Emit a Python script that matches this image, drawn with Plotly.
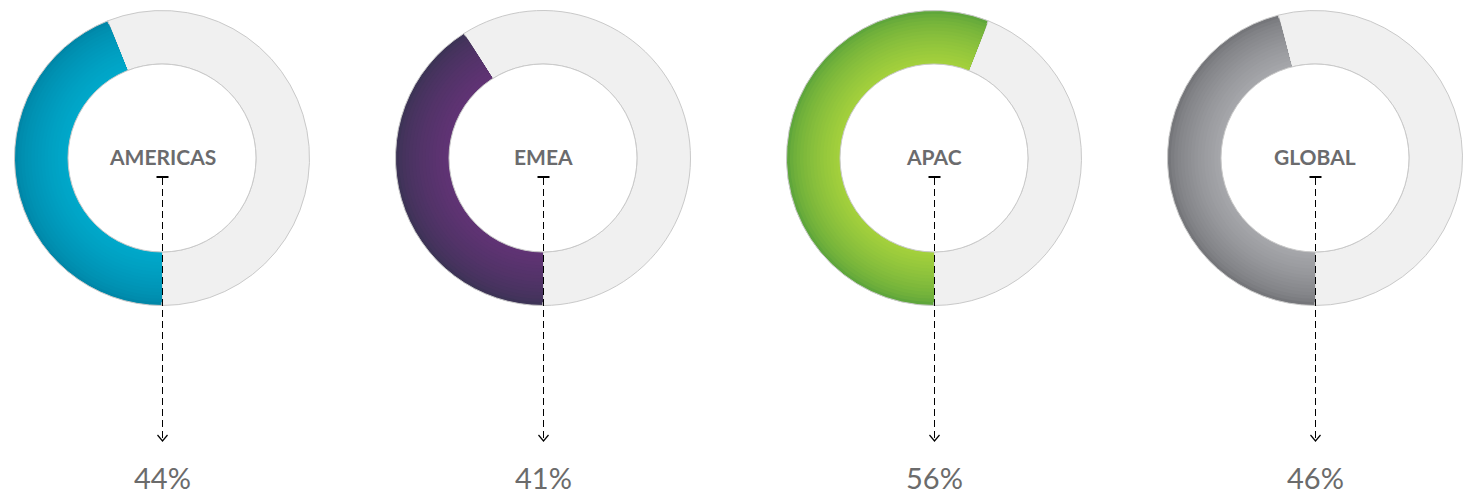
import plotly.graph_objects as go

# ---- data ----
regions = ["AMERICAS", "EMEA", "APAC", "GLOBAL"]
shares = [44, 41, 56, 46]
pct_labels = ["44%", "41%", "56%", "46%"]

# ---- styling ----
W, H = 1463, 494
centers_px = [162, 543, 934, 1315]
center_y_px = 158
R_px = 147.5
r_in_px = 94
outer_cols = ["#0087a8", "#3d3356", "#5fa63b", "#75767a"]
inner_cols = ["#00a8ca", "#603374", "#a3d03c", "#a5a6aa"]
rest_col = "#f0f0f0"
line_col = "#c9c9c9"


def hex2rgb(h):
    h = h.lstrip("#")
    return tuple(int(h[i:i + 2], 16) for i in (0, 2, 4))


def mix(a, b, t):
    ca, cb = hex2rgb(a), hex2rgb(b)
    return "rgb(%d,%d,%d)" % tuple(round(ca[i] + (cb[i] - ca[i]) * t) for i in range(3))


def domain(cx, r):
    return dict(x=[max(0, (cx - r) / W), min(1, (cx + r) / W)],
                y=[(H - center_y_px - r) / H, (H - center_y_px + r) / H])


fig = go.Figure()
N = 16
for i, (name, v) in enumerate(zip(regions, shares)):
    cx = centers_px[i]
    # base ring with outlines
    fig.add_trace(go.Pie(
        values=[v, 100 - v], labels=[name, "rest"],
        hole=r_in_px / R_px, sort=False, direction="clockwise", rotation=180,
        marker=dict(colors=[outer_cols[i], rest_col], line=dict(color=line_col, width=1)),
        textinfo="none", hoverinfo="skip", showlegend=False,
        domain=domain(cx, R_px)))
    # gradient layers for the coloured slice
    for k in range(1, N):
        r = R_px - (R_px - r_in_px) * k / N
        t = k / (N - 1)
        fig.add_trace(go.Pie(
            values=[v, 100 - v], labels=[name, "rest"],
            hole=r_in_px / r, sort=False, direction="clockwise", rotation=180,
            marker=dict(colors=[mix(outer_cols[i], inner_cols[i], t ** 0.7), "rgba(0,0,0,0)"],
                        line=dict(width=0)),
            textinfo="none", hoverinfo="skip", showlegend=False,
            domain=domain(cx, r)))
    # inner outline circle
    fig.add_shape(type="circle", xref="paper", yref="paper",
                  x0=(cx - r_in_px) / W, x1=(cx + r_in_px) / W,
                  y0=(H - center_y_px - r_in_px) / H, y1=(H - center_y_px + r_in_px) / H,
                  line=dict(color=line_col, width=1), fillcolor="white", layer="above")
    # dashed arrow
    lx = (cx + 0.5) / W
    fig.add_shape(type="line", xref="paper", yref="paper",
                  x0=lx, x1=lx, y0=(H - 178) / H, y1=(H - 440) / H,
                  line=dict(color="black", width=1, dash="7px,4px"))
    fig.add_shape(type="line", xref="paper", yref="paper",
                  x0=(cx - 5.5) / W, x1=(cx + 6.5) / W, y0=(H - 177) / H, y1=(H - 177) / H,
                  line=dict(color="black", width=2))
    fig.add_shape(type="path", xref="paper", yref="paper",
                  path="M %f %f L %f %f L %f %f" % ((cx - 4.5) / W, (H - 435) / H, lx, (H - 441) / H,
                                                    (cx + 5.5) / W, (H - 435) / H),
                  line=dict(color="black", width=1.2))
    xc = cx / W
    fig.add_annotation(x=xc, y=(H - 157) / H, xref="paper", yref="paper", text="<b>%s</b>" % name,
                       showarrow=False, font=dict(family="Lato", size=21, color="#6b6b6d"),
                       xanchor="center", yanchor="middle")
    fig.add_annotation(x=xc, y=(H - 477) / H, xref="paper", yref="paper", text=pct_labels[i],
                       showarrow=False, font=dict(family="Lato", size=29, color="#6b6b6b"),
                       xanchor="center", yanchor="middle")

fig.update_layout(width=W, height=H, margin=dict(l=0, r=0, t=0, b=0),
                  paper_bgcolor="white", plot_bgcolor="white", showlegend=False)
fig.write_html("out.html", config={"displayModeBar": False},
               post_script="document.body.style.margin='0';document.body.style.overflow='hidden';")
